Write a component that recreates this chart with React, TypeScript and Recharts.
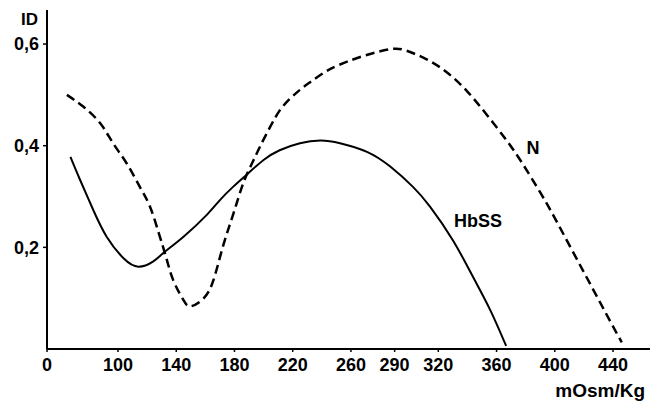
import React from 'react';
import { LineChart, Line, XAxis, YAxis, Label, ReferenceDot } from 'recharts';

// X axis tick labels (mOsm/Kg) and Y axis tick values (ID)
const xTickValues = [0, 100, 140, 180, 220, 260, 290, 320, 360, 400, 440];
const yTickValues = [0.2, 0.4, 0.6];

// HbSS curve (solid)
const hbssOsm = [33, 46.5, 65, 84, 104, 114, 124, 132, 145, 161, 170, 179, 189.5, 200, 211, 225, 239, 252.5, 271, 287, 302.6, 314.3, 330, 343.8, 355.6, 366.6];
const hbssId = [0.378, 0.333, 0.274, 0.221, 0.178, 0.162, 0.172, 0.191, 0.221, 0.264, 0.293, 0.319, 0.346, 0.372, 0.391, 0.405, 0.41, 0.405, 0.388, 0.359, 0.319, 0.28, 0.214, 0.142, 0.077, 0.006];

// N curve (dashed)
const nOsm = [28, 51, 75, 93, 106, 115, 122, 128, 133, 138, 145, 150, 158.6, 165.5, 172, 179, 186, 192, 197.5, 204.5, 211, 218, 225, 232, 241, 251, 268, 287, 298, 312, 326, 339.5, 353, 367, 378, 390, 399, 412.5, 426, 438, 446];
const nId = [0.5, 0.477, 0.444, 0.405, 0.365, 0.319, 0.28, 0.228, 0.181, 0.135, 0.096, 0.084, 0.099, 0.135, 0.201, 0.264, 0.326, 0.365, 0.398, 0.437, 0.469, 0.492, 0.51, 0.525, 0.543, 0.558, 0.576, 0.59, 0.587, 0.57, 0.544, 0.508, 0.462, 0.41, 0.364, 0.308, 0.263, 0.191, 0.119, 0.055, 0.013];

// The original x axis is broken: the 0-100 segment is drawn compressed.
const AXIS_BREAK = 100;
const BREAK_RATIO = 0.4876;
const toAxis = (v: number) => (v >= AXIS_BREAK ? v : AXIS_BREAK - (AXIS_BREAK - v) * BREAK_RATIO);
const fromAxis = (p: number) => (p >= AXIS_BREAK ? p : AXIS_BREAK - (AXIS_BREAK - p) / BREAK_RATIO);
const X_MAX = 465.4;
const Y_MAX = 0.667;

const hbssData = hbssOsm.map((o, i) => ({ x: toAxis(o), id: hbssId[i] }));
const nData = nOsm.map((o, i) => ({ x: toAxis(o), id: nId[i] }));

const FONT = '"Liberation Sans", Arial, sans-serif';
const tickStyle = { fontSize: 18, fontWeight: 700, fill: '#000', fontFamily: FONT };

const centerText = (text: string, size: number) => (props: any) => {
  const vb = props.viewBox || {};
  return (
    <text
      x={vb.x + (vb.width || 0) / 2}
      y={vb.y + (vb.height || 0) / 2}
      textAnchor="middle"
      dominantBaseline="central"
      fontSize={size}
      fontWeight={700}
      fontFamily={FONT}
      fill="#000"
    >
      {text}
    </text>
  );
};

export default function App() {
  return (
    <div style={{ position: 'absolute', left: 0, top: 0, width: 651, height: 401, background: '#fff' }}>
      <LineChart width={651} height={401} margin={{ top: 10, right: 1, bottom: 0, left: 0 }}>
        <XAxis
          type="number"
          dataKey="x"
          domain={[toAxis(0), X_MAX]}
          ticks={xTickValues.map(toAxis)}
          tickFormatter={(p: number) => String(Math.round(fromAxis(p)))}
          allowDataOverflow
          height={52}
          axisLine={{ stroke: '#000', strokeWidth: 2 }}
          tickLine={{ stroke: '#000', strokeWidth: 1.5 }}
          tickSize={3}
          tickMargin={6}
          tick={tickStyle}
          interval={0}
        >
          <Label
            content={(props: any) => {
              const vb = props.viewBox || {};
              return (
                <text
                  x={vb.x + vb.width - 5}
                  y={vb.y + vb.height - 4}
                  textAnchor="end"
                  fontSize={19}
                  fontWeight={700}
                  fontFamily={FONT}
                  fill="#000"
                >
                  mOsm/Kg
                </text>
              );
            }}
          />
        </XAxis>
        <YAxis
          type="number"
          dataKey="id"
          domain={[0, Y_MAX]}
          ticks={yTickValues}
          tickFormatter={(v: number) => v.toFixed(1).replace('.', ',')}
          allowDataOverflow
          width={47}
          axisLine={{ stroke: '#000', strokeWidth: 2 }}
          tickLine={{ stroke: '#000', strokeWidth: 1.5 }}
          tickSize={4}
          tickMargin={4}
          tick={tickStyle}
          interval={0}
        >
          <Label
            content={(props: any) => {
              const vb = props.viewBox || {};
              return (
                <text
                  x={vb.x + vb.width - 9}
                  y={vb.y + 15}
                  textAnchor="end"
                  fontSize={17}
                  fontWeight={700}
                  fontFamily={FONT}
                  fill="#000"
                >
                  ID
                </text>
              );
            }}
          />
        </YAxis>
        <Line
          data={nData}
          dataKey="id"
          type="natural"
          stroke="#000"
          strokeWidth={2.5}
          strokeDasharray="9 5"
          dot={false}
          activeDot={false}
          isAnimationActive={false}
        />
        <Line
          data={hbssData}
          dataKey="id"
          type="natural"
          stroke="#000"
          strokeWidth={2}
          dot={false}
          activeDot={false}
          isAnimationActive={false}
        />
        <ReferenceDot x={385} y={0.396} r={1} fill="none" stroke="none" label={{ content: centerText('N', 18) }} />
        <ReferenceDot x={347.3} y={0.252} r={1} fill="none" stroke="none" label={{ content: centerText('HbSS', 18) }} />
      </LineChart>
    </div>
  );
}
